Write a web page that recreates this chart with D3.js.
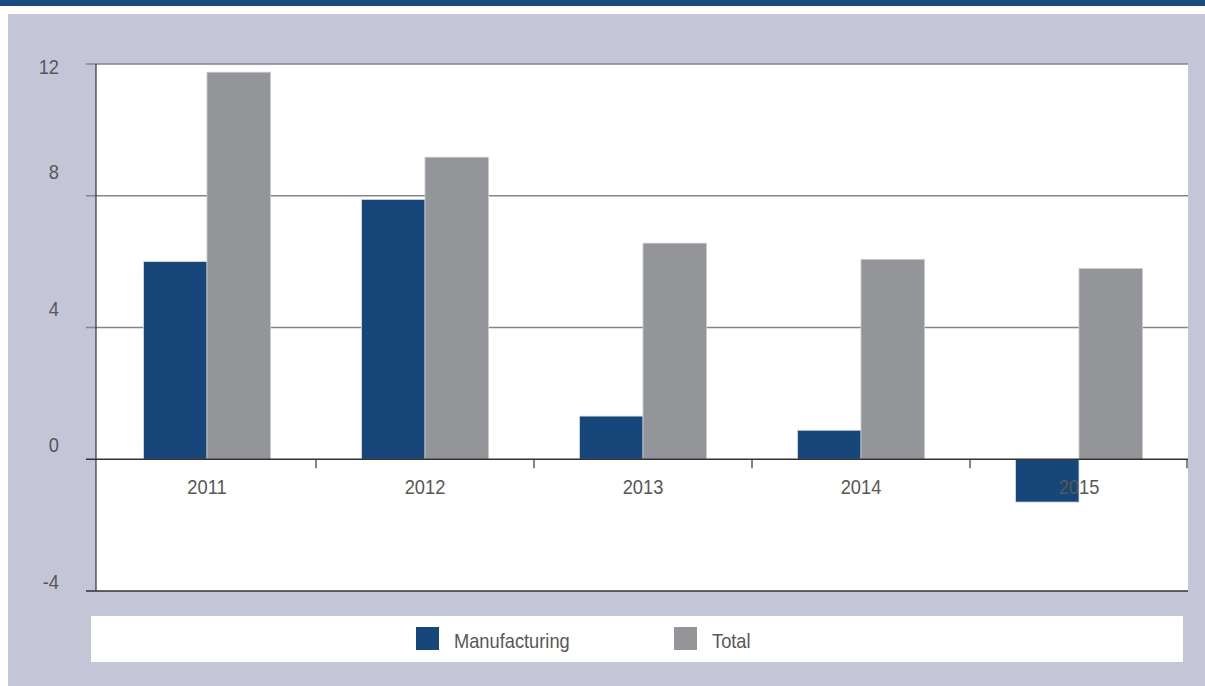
<!DOCTYPE html>
<html>
<head>
<meta charset="utf-8">
<script src="https://cdn.jsdelivr.net/npm/d3@7.9.0/dist/d3.min.js"></script>
<style>
  body { margin: 0; background: #fff; }
  svg { display: block; }
  text { font-family: "Liberation Sans Narrow", "Liberation Sans", sans-serif; fill: #575757; }
</style>
</head>
<body>
<div id="chart"></div>
<script>
// data
const years = ['2011', '2012', '2013', '2014', '2015'];
const series = ['Manufacturing', 'Total'];
const manufacturing = [6.0, 7.89, 1.31, 0.88, -1.3];
const total = [11.75, 9.17, 6.56, 6.07, 5.79];
const yTicks = [-4, 0, 4, 8, 12];
const colors = ['#17467a', '#939598'];

const rows = years.map((y, i) => ({ year: y, values: [manufacturing[i], total[i]] }));

const width = 1205;
const height = 686;
const squeeze = 0.87; // condensed look for the labels

const svg = d3.select('#chart')
  .append('svg')
  .attr('width', width)
  .attr('height', height);

// banner + panel background
svg.append('rect').attr('x', 0).attr('y', 0).attr('width', width).attr('height', 6).attr('fill', '#1a4a7e');
svg.append('rect').attr('x', 8).attr('y', 14).attr('width', width - 8).attr('height', height - 14).attr('fill', '#c4c6d8');

const plot = { left: 96, right: 1188, top: 64, bottom: 591 };

svg.append('rect')
  .attr('x', plot.left).attr('y', plot.top)
  .attr('width', plot.right - plot.left).attr('height', plot.bottom - plot.top)
  .attr('fill', '#fff');

const y = d3.scaleLinear().domain([-4, 12]).range([plot.bottom, plot.top]);

const x = d3.scaleBand()
  .domain(years)
  .range([plot.left + 2, plot.right])
  .paddingInner(0.418)
  .paddingOuter(0.209);

const xs = d3.scaleBand().domain(series).range([0, x.bandwidth()]);

// gridlines (12, 8, 4)
svg.append('g')
  .selectAll('line')
  .data(yTicks.filter(d => d > 0))
  .join('line')
  .attr('x1', plot.left - 10)
  .attr('x2', plot.right)
  .attr('y1', d => y(d))
  .attr('y2', d => y(d))
  .attr('stroke', '#858585')
  .attr('stroke-width', 1.3);

// bars
const groups = svg.append('g')
  .selectAll('g')
  .data(rows)
  .join('g')
  .attr('transform', d => `translate(${x(d.year)},0)`);

groups.selectAll('rect')
  .data(d => d.values.map((v, i) => ({ key: series[i], value: v, i })))
  .join('rect')
  .attr('x', d => xs(d.key))
  .attr('y', d => y(Math.max(0, d.value)))
  .attr('width', xs.bandwidth())
  .attr('height', d => Math.abs(y(d.value) - y(0)))
  .attr('fill', d => colors[d.i])
  .attr('stroke', d => d.i === 0 ? '#d4dbe6' : '#c9cacc')
  .attr('stroke-width', 0.8);

// zero line
svg.append('line')
  .attr('x1', plot.left - 10).attr('x2', plot.right)
  .attr('y1', y(0)).attr('y2', y(0))
  .attr('stroke', '#333').attr('stroke-width', 1.3);

// category boundary ticks below zero line
const bounds = years.slice(1).map(d => x(d) - x.step() * x.paddingInner() / 2).concat([plot.right - 1]);
svg.append('g')
  .selectAll('line')
  .data(bounds)
  .join('line')
  .attr('x1', d => d).attr('x2', d => d)
  .attr('y1', y(0)).attr('y2', y(0) + 9)
  .attr('stroke', '#333').attr('stroke-width', 1.2);

// bottom axis line and left axis line
svg.append('line')
  .attr('x1', plot.left - 10).attr('x2', plot.right)
  .attr('y1', plot.bottom).attr('y2', plot.bottom)
  .attr('stroke', '#333').attr('stroke-width', 1.3);
svg.append('line')
  .attr('x1', plot.left).attr('x2', plot.left)
  .attr('y1', plot.top).attr('y2', plot.bottom)
  .attr('stroke', '#333').attr('stroke-width', 1.2);

// category labels
svg.append('g')
  .selectAll('text')
  .data(years)
  .join('text')
  .attr('transform', d => `translate(${x(d) + x.bandwidth() / 2},${y(0) + 35}) scale(${squeeze},1)`)
  .attr('text-anchor', 'middle')
  .style('font-size', '21px')
  .text(d => d);

// y labels sit above their lines, on a slightly stretched scale
const labelY = d3.scaleLinear().domain([-4, 8]).range([y(-4) - 2, y(8) - 17]);
svg.append('g')
  .selectAll('text')
  .data(yTicks)
  .join('text')
  .attr('transform', d => `translate(59,${Math.max(labelY(d), y(12) + 10)}) scale(${squeeze},1)`)
  .attr('text-anchor', 'end')
  .style('font-size', '21px')
  .text(d => d);

// legend
const legend = svg.append('g');
legend.append('rect')
  .attr('x', 91).attr('y', 616)
  .attr('width', 1092).attr('height', 46)
  .attr('fill', '#fff');

const legendX = d3.scaleOrdinal().domain(series).range([416, 674]);
const items = legend.selectAll('g')
  .data(series)
  .join('g')
  .attr('transform', d => `translate(${legendX(d)},627)`);
items.append('rect')
  .attr('width', 23).attr('height', 23)
  .attr('fill', (d, i) => colors[i]);
items.append('text')
  .attr('transform', `translate(38,21) scale(${squeeze},1)`)
  .style('font-size', '21px')
  .text(d => d);
</script>
</body>
</html>
